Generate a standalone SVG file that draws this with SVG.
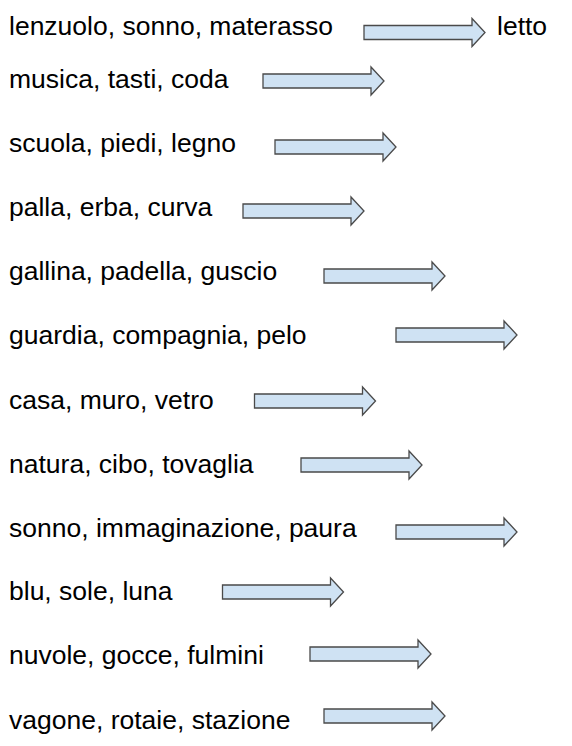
<svg xmlns="http://www.w3.org/2000/svg" xmlns:xlink="http://www.w3.org/1999/xlink" width="572" height="746" viewBox="0 0 572 746">
<style>
text{font-family:"Liberation Sans",Arial,sans-serif;font-size:26.5px;fill:#000}
.arr{fill:#cfe2f3;stroke:#4a4a4a;stroke-width:1.3;stroke-linejoin:miter}
</style>
<defs>
<polygon id="arrow" class="arr" points="0,-7 108,-7 108,-14 121,0 108,14 108,7 0,7"/>
</defs>
<rect width="572" height="746" fill="#fff"/>
<g id="connectors">
<use xlink:href="#arrow" href="#arrow" x="364" y="32.5"/>
<use xlink:href="#arrow" href="#arrow" x="263" y="81"/>
<use xlink:href="#arrow" href="#arrow" x="275" y="147"/>
<use xlink:href="#arrow" href="#arrow" x="243" y="211"/>
<use xlink:href="#arrow" href="#arrow" x="324" y="276"/>
<use xlink:href="#arrow" href="#arrow" x="396" y="335"/>
<use xlink:href="#arrow" href="#arrow" x="254.5" y="401"/>
<use xlink:href="#arrow" href="#arrow" x="301" y="465"/>
<use xlink:href="#arrow" href="#arrow" x="396" y="532"/>
<use xlink:href="#arrow" href="#arrow" x="222.5" y="592"/>
<use xlink:href="#arrow" href="#arrow" x="310" y="654"/>
<use xlink:href="#arrow" href="#arrow" x="324" y="716"/>
</g>
<g id="row1"><text x="9" y="35">lenzuolo, sonno, materasso</text></g>
<g id="letto"><text x="497" y="35">letto</text></g>
<g id="row2"><text x="9" y="87.5">musica, tasti, coda</text></g>
<g id="row3"><text x="9" y="151.5">scuola, piedi, legno</text></g>
<g id="row4"><text x="9" y="216">palla, erba, curva</text></g>
<g id="row5"><text x="9" y="280">gallina, padella, guscio</text></g>
<g id="row6"><text x="9" y="344">guardia, compagnia, pelo</text></g>
<g id="row7"><text x="9" y="408.5">casa, muro, vetro</text></g>
<g id="row8"><text x="9" y="472.5">natura, cibo, tovaglia</text></g>
<g id="row9"><text x="9" y="536.5">sonno, immaginazione, paura</text></g>
<g id="row10"><text x="9" y="600">blu, sole, luna</text></g>
<g id="row11"><text x="9" y="664">nuvole, gocce, fulmini</text></g>
<g id="row12"><text x="9" y="729">vagone, rotaie, stazione</text></g>
</svg>
